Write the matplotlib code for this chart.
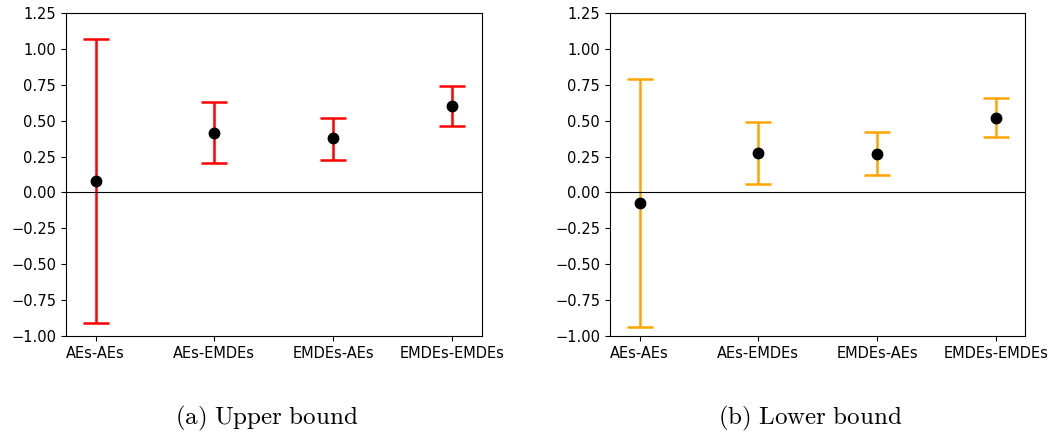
import matplotlib.pyplot as plt
import numpy as np

plt.rcParams['mathtext.fontset'] = 'cm'

labels = ["AEs-AEs", "AEs-EMDEs", "EMDEs-AEs", "EMDEs-EMDEs"]

# upper bound panel
upper_mid = [0.08, 0.415, 0.376, 0.601]
upper_lo = [-0.91, 0.204, 0.227, 0.462]
upper_hi = [1.07, 0.627, 0.522, 0.740]

# lower bound panel
lower_mid = [-0.072, 0.274, 0.271, 0.522]
lower_lo = [-0.936, 0.060, 0.123, 0.385]
lower_hi = [0.789, 0.490, 0.422, 0.661]

panels = [
    (upper_mid, upper_lo, upper_hi, 'red', r'$\mathrm{(a)\ Upper\ bound}$'),
    (lower_mid, lower_lo, lower_hi, 'orange', r'$\mathrm{(b)\ Lower\ bound}$'),
]

fig = plt.figure(figsize=(10.52, 4.37), dpi=100)
lefts = [0.0627, 0.5798]
x = np.arange(len(labels))

for left, (mid, lo, hi, col, cap) in zip(lefts, panels):
    ax = fig.add_axes([left, 0.2311, 0.3950, 0.7391])
    mid = np.array(mid)
    yerr = [mid - np.array(lo), np.array(hi) - mid]
    ax.errorbar(x, mid, yerr=yerr, fmt='o', color='black', ecolor=col,
                elinewidth=1.8, capsize=9.5, capthick=1.8, markersize=7.5)
    ax.axhline(0, color='black', lw=0.8)
    ax.set_xlim(-0.25, 3.25)
    ax.set_ylim(-1.0, 1.25)
    ax.set_yticks(np.arange(-1.0, 1.26, 0.25))
    ax.set_xticks(x)
    ax.set_xticklabels(labels)
    ax.tick_params(labelsize=10.5)
    fig.text(left + 0.3950 / 2 - 0.007, 0.043, cap, ha='center', va='center', fontsize=18)

plt.savefig('out.png', dpi=100)
